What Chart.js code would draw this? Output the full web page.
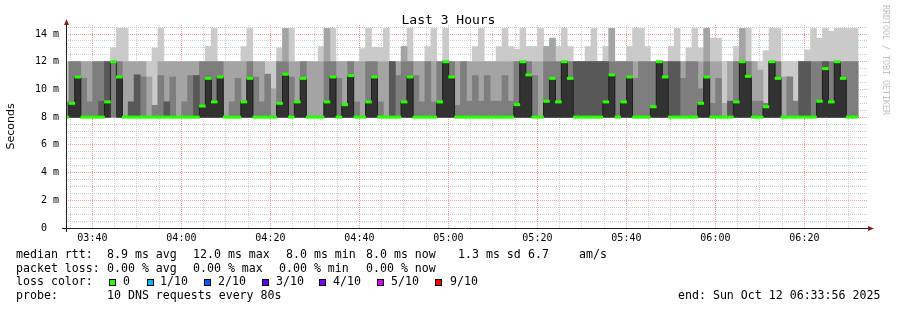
<!DOCTYPE html>
<html>
<head>
<meta charset="utf-8">
<title>Last 3 Hours</title>
<script src="https://cdn.jsdelivr.net/npm/chart.js@4/dist/chart.umd.min.js"></script>
<style>
  body { margin: 0; background: #fff; }
  #wrap { position: relative; width: 897px; height: 310px; font-family: "DejaVu Sans Mono", monospace; color: #000; }
  #wrap canvas { position: absolute; left: 0; top: 0; }
  .txt { position: absolute; font-size: 11.6px; line-height: 1; white-space: pre; }
  .box { position: absolute; top: 279px; width: 5px; height: 5px; border: 1px solid #000; }
  #title { position: absolute; left: 0; width: 897px; top: 13px; text-align: center; font-size: 13px; line-height: 1; }
  #mark { position: absolute; left: 882px; top: 5px; font-size: 8.3px; line-height: 8px; writing-mode: vertical-rl; color: #c0c0c0; white-space: pre; }
</style>
</head>
<body>
<div id="wrap">
  <canvas id="chart" width="897" height="310"></canvas>
  <div id="title">Last 3 Hours</div>
  <div id="mark">RRDTOOL / TOBI OETIKER</div>

  <div class="txt" style="left:16px;top:249px">median rtt:</div>
  <div class="txt" style="left:107px;top:249px">8.9 ms avg</div>
  <div class="txt" style="left:193px;top:249px">12.0 ms max</div>
  <div class="txt" style="left:286px;top:249px">8.0 ms min</div>
  <div class="txt" style="left:366px;top:249px">8.0 ms now</div>
  <div class="txt" style="left:458px;top:249px">1.3 ms sd</div>
  <div class="txt" style="left:528px;top:249px">6.7</div>
  <div class="txt" style="left:579px;top:249px">am/s</div>

  <div class="txt" style="left:16px;top:263px">packet loss:</div>
  <div class="txt" style="left:107px;top:263px">0.00 % avg</div>
  <div class="txt" style="left:193px;top:263px">0.00 % max</div>
  <div class="txt" style="left:279px;top:263px">0.00 % min</div>
  <div class="txt" style="left:366px;top:263px">0.00 % now</div>

  <div class="txt" style="left:16px;top:276px">loss color:</div>
  <div class="box" style="left:109px;background:#26ff00"></div>
  <div class="txt" style="left:123px;top:276px">0</div>
  <div class="box" style="left:147px;background:#00b8ff"></div>
  <div class="txt" style="left:160px;top:276px">1/10</div>
  <div class="box" style="left:204px;background:#0059ff"></div>
  <div class="txt" style="left:218px;top:276px">2/10</div>
  <div class="box" style="left:262px;background:#5e00ff"></div>
  <div class="txt" style="left:276px;top:276px">3/10</div>
  <div class="box" style="left:319px;background:#7e00ff"></div>
  <div class="txt" style="left:333px;top:276px">4/10</div>
  <div class="box" style="left:377px;background:#dd00ff"></div>
  <div class="txt" style="left:391px;top:276px">5/10</div>
  <div class="box" style="left:435px;background:#ff0000"></div>
  <div class="txt" style="left:450px;top:276px">9/10</div>

  <div class="txt" style="left:16px;top:290px">probe:</div>
  <div class="txt" style="left:107px;top:290px">10 DNS requests every 80s</div>
  <div class="txt" style="left:678px;top:290px">end: Sun Oct 12 06:33:56 2025</div>
</div>

<script>
// one value per 80 s step, ms
var median = [
  8, 9.0, 10.9, 8, 8, 8, 8, 9.1, 12, 10.9,
  8, 8, 8, 8, 8, 8, 8, 8, 8, 8,
  8, 8, 8, 8.8, 10.8, 9.1, 10.9, 8, 8, 8,
  9.1, 10.8, 8, 8, 8, 8, 9.0, 11.1, 8, 9.1,
  10.8, 8, 8, 8, 9.1, 10.9, 8, 8.9, 11.0, 8,
  8, 9.1, 10.9, 8, 8, 8, 8, 9.1, 10.9, 8,
  8, 8, 8, 9.1, 12, 10.9, 8, 8, 8, 8,
  8, 8, 8, 8, 8, 8, 8.9, 12, 11.05, 8,
  8, 9.15, 10.8, 9.1, 12, 10.8, 8, 8, 8, 8,
  8, 9.1, 11.05, 8, 9.1, 10.9, 8, 8, 8, 8.75,
  12, 10.9, 8, 8, 8, 8, 8, 9.0, 10.9, 8,
  8, 8, 8, 9.1, 12, 10.95, 8, 8, 8.75, 12,
  10.8, 8, 8, 8, 8, 8, 8, 9.15, 11.5, 9.1,
  12, 10.8, 8, 8, null, null
];

// sorted pings of each step (ping1 = fastest ... ping10 = slowest)
var ping1 = [
  8, 8, 8, 8, 8, 8, 8, 8, 8, 8,  8, 8, 8, 8, 8, 8, 8, 8, 8, 8,
  8, 8, 8, 8, 8, 8, 8, 8, 8, 8,  8, 8, 8, 8, 8, 8, 8, 8, 8, 8,
  8, 8, 8, 8, 8, 8, 8, 8, 8, 8,  8, 8, 8, 8, 8, 8, 8, 8, 8, 8,
  8, 8, 8, 8, 8, 8, 8, 8, 8, 8,  8, 8, 8, 8, 8, 8, 8, 8, 8, 8,
  8, 8, 8, 8, 8, 8, 8, 8, 8, 8,  8, 8, 8, 8, 8, 8, 8, 8, 8, 8,
  8, 8, 8, 8, 8, 8, 8, 8, 8, 8,  8, 8, 8, 8, 8, 8, 8, 8, 8, 8,
  8, 8, 8, 8, 8, 8, 8, 8, 8, 8,  8, 8, 8, 8, null, null
];
var ping2 = ping1.slice();
var ping3 = ping1.slice();
var ping4 = [
  8, 8, 8, 8, 8, 8, 8, 8, 12, 8,  8, 8, 8, 8, 8, 8, 8, 8, 8, 8,
  8, 8, 8, 8, 8, 8, 8, 8, 8, 8,  8, 8, 8, 8, 8, 8, 8, 8, 8, 8,
  8, 8, 8, 8, 8, 8, 8, 8, 8, 8,  8, 8, 8, 8, 8, 8, 8, 8, 8, 8,
  8, 8, 8, 8, 8, 8, 8, 8, 8, 8,  8, 8, 8, 8, 8, 8, 8, 8, 8, 8,
  8, 8, 8, 8, 8, 8, 8, 8, 8, 8,  8, 8, 8, 8, 8, 8, 8, 8, 8, 8,
  8, 8, 8, 8, 8, 8, 8, 8, 8, 8,  8, 8, 8, 8, 8, 8, 8, 8, 8, 8,
  8, 8, 8, 8, 8, 8, 8, 8, 8, 8,  8, 8, 8, 8, null, null
];
var ping5 = ping4.slice();
var ping6 = median.slice();
var ping7 = [
  8, 9.0, 10.9, 8, 8, 8, 9.15, 12, 12, 10.9,
  8, 9.1, 11.05, 8, 8, 8, 8, 9.1, 8, 8,
  8, 8, 11.0, 8.8, 10.8, 9.1, 10.9, 8, 8, 8,
  9.1, 10.8, 8, 8, 8, 8, 9.0, 11.1, 8, 9.1,
  10.8, 8, 8, 8, 9.1, 10.9, 8, 8.9, 11.0, 8,
  8, 9.1, 10.9, 8, 8, 12, 8, 9.1, 10.9, 8,
  8, 8, 8, 9.1, 12, 10.9, 8, 8, 8, 8,
  8, 8, 8, 8, 8, 8, 8.9, 12, 11.05, 8,
  8, 9.15, 10.8, 9.1, 12, 10.8, 12, 12, 12, 12,
  12, 12, 11.05, 8, 9.1, 10.9, 8, 8, 8, 8.75,
  12, 10.9, 12, 12, 8, 8, 8, 9.0, 10.9, 8,
  8, 8, 9.15, 9.1, 12, 10.95, 8, 8, 8.75, 12,
  10.8, 8, 8, 8, 12, 12, 8, 9.15, 12, 9.1,
  12, 10.8, 8, 8, null, null
];
var ping8 = [
  9.1, 12, 12, 10.8, 9.1, 12, 12, 12, 12, 12,
  8, 9.1, 11.05, 10.9, 8, 8.85, 11.0, 9.1, 10.9, 8,
  9.1, 11.0, 11.0, 12, 12, 12, 12, 8, 9.1, 10.8,
  9.1, 12, 10.9, 9.1, 11.1, 8, 12, 12, 10.9, 9.1,
  12, 8, 8, 8, 12, 12, 10.8, 8.9, 12, 9.1,
  8, 12, 12, 9.1, 8, 12, 11.0, 12, 12, 11.0,
  9.1, 12, 9.1, 12, 12, 12, 8.85, 12, 9.15, 11.0,
  9.15, 11.0, 9.15, 9.15, 11.0, 9.15, 12, 12, 12, 11.0,
  8, 12, 12, 12, 12, 12, 12, 12, 12, 12,
  12, 12, 12, 12, 12, 12, 10.8, 12, 12, 12,
  12, 12, 12, 12, 10.8, 12, 12, 10.05, 12, 9.0,
  10.8, 8, 9.15, 12, 12, 12, 9.15, 9.15, 9.0, 12,
  12, 8, 10.9, 9.15, 12, 12, 12, 12, 12, 12,
  12, 12, 12, 12, null, null
];
var ping9 = [
  9.1, 12, 12, 12, 12, 12, 12, 12, 12, 12,
  12, 12, 12, 12, 10.9, 8.85, 12, 12, 12, 12,
  12, 12, 12, 12, 12, 12, 12, 12, 12, 12,
  12, 12, 12, 12, 11.1, 10.05, 12, 14.4, 12, 12,
  12, 12, 12, 12, 14.4, 12, 12, 12, 12, 12,
  12, 12, 12, 12, 12, 12, 12, 13.1, 12, 12,
  12, 12, 12, 12, 12, 12, 12, 12, 12, 12,
  12, 12, 12, 12, 12, 12, 12, 12, 12, 12,
  12, 13.1, 13.7, 12, 12, 12, 12, 12, 12, 12,
  12, 12, 14.4, 12, 12, 12, 12, 12, 12, 12,
  12, 12, 12, 12, 12, 12, 12, 12, 14.4, 12,
  12, 9.0, 12, 12, 14.4, 12, 12, 11.4, 9.0, 12,
  12, 10.9, 10.9, 9.15, 12, 12, 12, 12, 12, 12,
  12, 12, 12, 12, null, null
];
var ping10 = [
  12, 12, 12, 12, 12, 12, 12, 12, 13.0, 14.4,
  14.4, 12, 12, 12, 12, 13.0, 14.4, 12, 12, 12,
  12, 12, 12, 12, 13.1, 14.4, 12, 12, 12, 12,
  13.1, 14.4, 12, 12, 12, 12, 13.0, 14.4, 14.4, 12,
  12, 12, 12, 13.1, 14.4, 14.4, 12, 12, 12, 12,
  12.95, 14.4, 13.05, 13.05, 14.4, 12, 12, 13.1, 14.4, 12,
  12, 13.1, 14.4, 12, 14.4, 12, 12, 12, 12, 13.1,
  14.4, 12, 12, 13.1, 14.4, 13.1, 12.9, 14.4, 13.1, 13.1,
  14.4, 13.1, 13.7, 13.1, 14.4, 13.1, 12, 12, 13.1, 14.4,
  12, 13.1, 14.4, 12, 12, 13.1, 14.4, 14.4, 13.1, 12,
  12, 12, 13.1, 14.4, 12, 13.0, 14.4, 13.0, 14.4, 13.7,
  13.7, 12, 12, 13.1, 14.4, 14.4, 12, 12, 12.8, 14.4,
  14.4, 12, 12, 12, 12, 12.85, 14.4, 13.7, 14.4, 14.2,
  14.4, 14.4, 14.4, 14.4, null, null
];

var timeTicks = ['03:40', '04:00', '04:20', '04:40', '05:00', '05:20', '05:40', '06:00', '06:20'];
var yTicks = [0, 2, 4, 6, 8, 10, 12, 14];

var viewStart = 12844;          // 03:34:04, seconds after midnight
var viewEnd = viewStart + 10800;
var firstStep = 12843;          // centre of the first 80 s step
var stepSeconds = 80;
var medianHalf = 0.085;         // half height of the loss coloured median band

var minorGrid = 'rgba(192,192,192,0.8)';
var majorGrid = 'rgba(255,110,110,0.7)';

function toSec(hhmm) {
    var p = hhmm.split(':');
    return (+p[0]) * 3600 + (+p[1]) * 60;
}
var tickSeconds = timeTicks.map(toSec);

var xs = median.map(function (m, i) { return firstStep + i * stepSeconds; });

function band(lo, hi) {
    return xs.map(function (x, i) {
        return {x: x, y: (lo[i] == null || hi[i] == null) ? null : [lo[i], hi[i]]};
    });
}

function smoke(lo, hi, color, order) {
    return {
        type: 'bar',
        data: band(lo, hi),
        backgroundColor: color,
        borderWidth: 0,
        grouped: false,
        barPercentage: 1,
        categoryPercentage: 1,
        clip: 0,
        order: order
    };
}

var medianBand = xs.map(function (x, i) {
    var m = median[i];
    return {x: x, y: m == null ? null : [m - medianHalf, m + medianHalf]};
});

var medianLine = xs.map(function (x, i) { return {x: x, y: median[i]}; });

// little red arrows at the axis ends, axis lines running past the corner
var axisArrows = {
    id: 'axisArrows',
    afterDraw: function (chart) {
        var ctx = chart.ctx, a = chart.chartArea;
        ctx.save();
        ctx.strokeStyle = '#202020';
        ctx.lineWidth = 1;
        ctx.beginPath();
        ctx.moveTo(62, a.bottom + 0.5);
        ctx.lineTo(a.right + 2, a.bottom + 0.5);
        ctx.moveTo(a.left + 0.5, a.bottom + 4);
        ctx.lineTo(a.left + 0.5, a.top - 1);
        ctx.stroke();
        ctx.fillStyle = '#8b1c1c';
        ctx.beginPath();
        ctx.moveTo(a.left - 2, a.top);
        ctx.lineTo(a.left + 3, a.top);
        ctx.lineTo(a.left + 0.5, a.top - 6);
        ctx.closePath();
        ctx.fill();
        ctx.beginPath();
        ctx.moveTo(a.right + 1, a.bottom - 2);
        ctx.lineTo(a.right + 1, a.bottom + 3);
        ctx.lineTo(a.right + 7, a.bottom + 0.5);
        ctx.closePath();
        ctx.fill();
        ctx.restore();
    }
};

new Chart(document.getElementById('chart'), {
    type: 'bar',
    data: {
        datasets: [
            {
                type: 'bar',
                data: medianBand,
                backgroundColor: '#26ff00',
                borderWidth: 0,
                grouped: false,
                barPercentage: 1,
                categoryPercentage: 1,
                clip: 0,
                order: 0
            },
            {
                type: 'line',
                data: medianLine,
                borderColor: '#202020',
                borderWidth: 1,
                pointRadius: 0,
                stepped: 'middle',
                spanGaps: false,
                clip: 0,
                order: 1
            },
            smoke(ping5, ping6, '#323232', 2),
            smoke(ping4, ping7, '#585858', 3),
            smoke(ping3, ping8, '#7e7e7e', 4),
            smoke(ping2, ping9, '#a4a4a4', 5),
            smoke(ping1, ping10, '#cacaca', 6)
        ]
    },
    options: {
        responsive: false,
        animation: false,
        devicePixelRatio: 1,
        layout: {padding: {top: 25, right: 30, left: 0, bottom: 0}},
        plugins: {legend: {display: false}, tooltip: {enabled: false}, title: {display: false}},
        scales: {
            x: {
                type: 'linear',
                min: viewStart,
                max: viewEnd,
                offset: false,
                z: 1,
                afterBuildTicks: function (scale) {
                    var t = [];
                    for (var v = Math.ceil(viewStart / 300) * 300; v <= viewEnd; v += 300) t.push({value: v});
                    scale.ticks = t;
                },
                afterFit: function (scale) { scale.height = 82; },
                ticks: {
                    autoSkip: false,
                    maxRotation: 0,
                    minRotation: 0,
                    padding: 4,
                    color: '#000',
                    font: {family: 'DejaVu Sans Mono', size: 10},
                    callback: function (v) {
                        var i = tickSeconds.indexOf(v);
                        return i < 0 ? '' : timeTicks[i];
                    }
                },
                grid: {
                    offset: false,
                    drawTicks: false,
                    color: function (c) {
                        return c.tick && tickSeconds.indexOf(c.tick.value) >= 0 ? majorGrid : minorGrid;
                    }
                },
                border: {display: false, dash: [1, 1]}
            },
            y: {
                type: 'linear',
                min: 0,
                max: 14.65,
                z: 1,
                afterBuildTicks: function (scale) {
                    var t = [];
                    for (var v = 0; v <= 14.5; v += 0.5) t.push({value: v});
                    scale.ticks = t;
                },
                afterFit: function (scale) { scale.width = 66; },
                ticks: {
                    autoSkip: false,
                    padding: 7,
                    color: '#000',
                    font: {family: 'DejaVu Sans Mono', size: 10},
                    callback: function (v) {
                        if (yTicks.indexOf(v) < 0) return '';
                        return v === 0 ? '0  ' : v + ' m';
                    }
                },
                grid: {
                    drawTicks: false,
                    color: function (c) {
                        return c.tick && yTicks.indexOf(c.tick.value) >= 0 && c.tick.value > 0 ? majorGrid : minorGrid;
                    }
                },
                border: {display: false, dash: [1, 1]},
                title: {
                    display: true,
                    text: 'Seconds',
                    color: '#000',
                    font: {family: 'DejaVu Sans', size: 11},
                    padding: {top: 4.4, bottom: 0}
                }
            }
        }
    },
    plugins: [axisArrows]
});
</script>
</body>
</html>
